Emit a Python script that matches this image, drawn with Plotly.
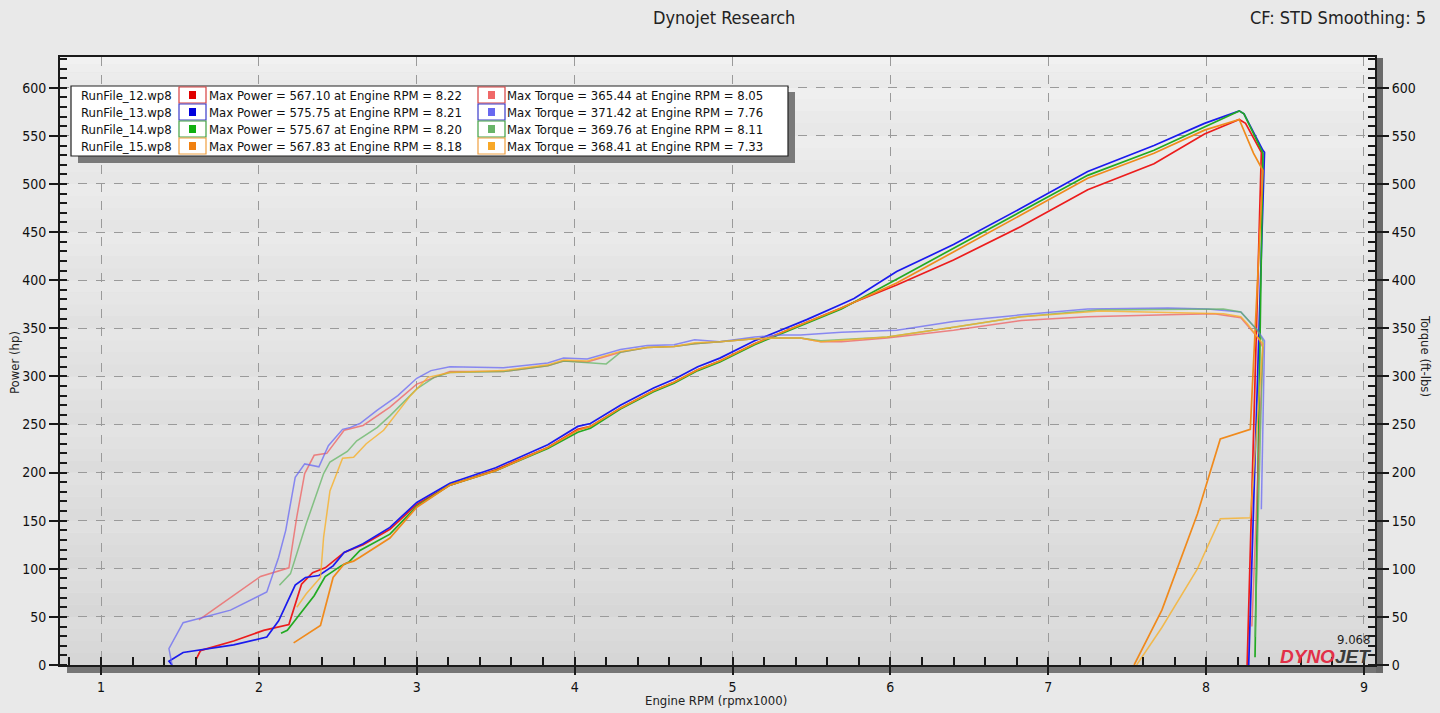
import plotly.graph_objects as go

# ---- legend / summary values ----
run_names = ["RunFile_12.wp8", "RunFile_13.wp8", "RunFile_14.wp8", "RunFile_15.wp8"]
max_power = [567.10, 575.75, 575.67, 567.83]
max_power_rpm = [8.22, 8.21, 8.20, 8.18]
max_torque = [365.44, 371.42, 369.76, 368.41]
max_torque_rpm = [8.05, 7.76, 8.11, 7.33]

# ---- run 12 (red) ----
rpm12_hp = [1.60, 1.63, 1.84, 2.03, 2.19, 2.27, 2.34, 2.42, 2.54, 2.66, 2.83, 3.00, 3.21, 3.50, 3.83,
            4.02, 4.10, 4.29, 4.50, 4.63, 4.78, 4.92, 5.14, 5.35, 5.47, 5.69, 5.77, 6.04, 6.40, 6.83,
            7.25, 7.67, 7.99, 8.21, 8.25, 8.35, 8.26]
hp12 = [5, 15, 25, 36, 42, 84, 96, 101, 117, 125, 141, 167, 187, 203, 226,
        245, 248, 267, 285, 294, 307, 316, 334, 348, 356, 371, 377, 395, 421, 456,
        494, 521, 552, 567, 563, 533, 0]
rpm12_tq = [1.62, 2.01, 2.19, 2.24, 2.29, 2.35, 2.43, 2.54, 2.66, 2.83, 3.00, 3.21, 3.55, 3.83, 3.93,
            4.08, 4.29, 4.46, 4.63, 4.76, 4.92, 5.14, 5.31, 5.43, 5.56, 5.69, 5.98, 6.40, 6.83, 7.25,
            7.76, 8.05, 8.22, 8.33, 8.36, 8.29]
tq12 = [47, 92, 101, 154, 199, 218, 220, 244, 249, 268, 292, 305, 305, 311, 316,
        315, 325, 330, 331, 334, 336, 339, 340, 340, 336, 336, 340, 348, 358, 362,
        364, 365, 361, 340, 330, 40]

# ---- run 13 (blue) ----
rpm13_hp = [1.45, 1.43, 1.52, 1.84, 2.05, 2.125, 2.23, 2.295, 2.38, 2.47, 2.54, 2.66, 2.83, 3.00, 3.21,
            3.50, 3.83, 4.02, 4.10, 4.29, 4.50, 4.63, 4.78, 4.92, 5.14, 5.35, 5.47, 5.69, 5.77, 6.04,
            6.40, 6.83, 7.25, 7.67, 7.99, 8.21, 8.24, 8.36, 8.37, 8.27]
hp13 = [0, 4, 13, 21, 29, 46, 83, 91, 93, 103, 117, 126, 143, 169, 189,
        205, 229, 248, 251, 270, 288, 297, 310, 319, 337, 351, 359, 375, 381, 409,
        437, 475, 513, 540, 563, 576, 573, 535, 533, 0]
rpm13_tq = [1.45, 1.43, 1.52, 1.82, 2.05, 2.125, 2.17, 2.23, 2.29, 2.38, 2.44, 2.53, 2.58, 2.64, 2.75,
            2.88, 3.00, 3.09, 3.21, 3.55, 3.83, 3.93, 4.08, 4.29, 4.46, 4.63, 4.76, 4.92, 5.14, 5.31,
            5.43, 5.69, 6.04, 6.40, 6.83, 7.25, 7.76, 8.01, 8.22, 8.325, 8.37, 8.35]
tq13 = [0, 17, 44, 57, 76, 112, 140, 195, 209, 206, 228, 245, 247, 251, 265,
        280, 298, 306, 310, 309, 314, 319, 318, 328, 332, 333, 338, 336, 341, 343,
        343, 346, 348, 357, 364, 370, 371, 370, 367, 348, 337, 162]

# ---- run 14 (green) ----
rpm14_hp = [2.14, 2.18, 2.27, 2.35, 2.42, 2.52, 2.57, 2.64, 2.83, 3.00, 3.21, 3.50, 3.83, 4.02, 4.10,
            4.29, 4.50, 4.63, 4.78, 4.92, 5.14, 5.35, 5.47, 5.69, 6.04, 6.40, 6.83, 7.25, 7.67, 7.99,
            8.21, 8.24, 8.36, 8.31]
hp14 = [33, 36, 55, 72, 92, 103, 107, 119, 136, 165, 187, 202, 225, 242, 246,
        266, 284, 293, 306, 315, 333, 347, 355, 370, 401, 433, 471, 509, 535, 559,
        576, 573, 532, 8]
rpm14_tq = [2.13, 2.20, 2.30, 2.41, 2.45, 2.56, 2.62, 2.75, 2.83, 3.00, 3.11, 3.21, 3.55, 3.83, 3.93,
            4.08, 4.20, 4.29, 4.46, 4.63, 4.76, 4.92, 5.14, 5.31, 5.43, 5.56, 5.98, 6.40, 6.83, 7.31,
            7.76, 8.11, 8.22, 8.325, 8.36, 8.31]
tq14 = [83, 95, 147, 199, 211, 222, 233, 247, 259, 287, 299, 304, 305, 311, 316,
        314, 313, 325, 330, 331, 334, 336, 339, 340, 340, 337, 341, 351, 362, 369,
        370, 370, 367, 348, 337, 29]

# ---- run 15 (orange) ----
rpm15_hp = [2.22, 2.39, 2.47, 2.54, 2.60, 2.64, 2.83, 3.00, 3.21, 3.50, 3.83, 4.02, 4.10, 4.29, 4.50,
            4.63, 4.78, 4.92, 5.14, 5.35, 5.47, 5.69, 6.04, 6.40, 6.83, 7.25, 7.67, 7.99, 8.21, 8.30,
            8.36, 8.28, 8.09, 8.01, 7.945, 7.72, 7.544]
hp15 = [23, 41, 91, 105, 108, 112, 132, 164, 187, 202, 226, 244, 248, 267, 285,
        294, 307, 316, 334, 348, 356, 371, 397, 429, 468, 506, 532, 556, 567, 532,
        514, 245, 235, 192, 157, 57, 0]
rpm15_tq = [2.24, 2.30, 2.39, 2.41, 2.45, 2.49, 2.53, 2.60, 2.68, 2.79, 2.96, 3.07, 3.21, 3.55, 3.83,
            3.93, 4.08, 4.29, 4.46, 4.63, 4.76, 4.92, 5.14, 5.31, 5.43, 5.56, 5.98, 6.40, 6.83, 7.33,
            7.76, 8.11, 8.22, 8.26, 8.325, 8.36, 8.28, 8.09, 7.945, 7.72, 7.56]
tq15 = [60, 74, 91, 133, 181, 199, 215, 216, 230, 244, 280, 299, 304, 306, 312,
        317, 316, 326, 330, 331, 335, 336, 339, 340, 340, 336, 341, 351, 362, 368,
        366, 365, 362, 355, 341, 334, 153, 152, 100, 39, 0]

power_colors = ["#ec1c1c", "#1a1aee", "#22aa22", "#f08a1c"]
torque_colors = ["rgba(240,90,90,0.72)", "rgba(100,100,245,0.72)", "rgba(95,180,95,0.72)", "rgba(248,176,40,0.8)"]
square_power = ["#e00000", "#0000dd", "#10b010", "#f08010"]
square_torque = ["#f06868", "#6868f0", "#68b468", "#f8a828"]
box_border = ["#d84040", "#3a3ac8", "#40a040", "#f0a040"]

FONT = "DejaVu Sans Condensed, DejaVu Sans, sans-serif"

# plot area in pixels
L, R, T, B = 60, 1375, 57, 665
W, H = R - L, B - T


def fx(p):
    return (p - L) / W


def fy(p):
    return (B - p) / H


fig = go.Figure()

hp_sets = [(rpm12_hp, hp12), (rpm13_hp, hp13), (rpm14_hp, hp14), (rpm15_hp, hp15)]
tq_sets = [(rpm12_tq, tq12), (rpm13_tq, tq13), (rpm14_tq, tq14), (rpm15_tq, tq15)]

for i, (x, y) in enumerate(tq_sets):
    fig.add_trace(go.Scatter(x=x, y=y, mode="lines", yaxis="y2", showlegend=False,
                             line=dict(color=torque_colors[i], width=1.5)))
for i, (x, y) in enumerate(hp_sets):
    fig.add_trace(go.Scatter(x=x, y=y, mode="lines", showlegend=False,
                             line=dict(color=power_colors[i], width=1.7)))

shapes = []
# banded plot background
for i in range(13):
    y0 = 50 * i
    y1 = min(50 * (i + 1), 632)
    base = 214 + i * 1.7
    n = 4
    for k in range(n):
        a = y0 + (y1 - y0) * k / n
        b = y0 + (y1 - y0) * (k + 1) / n
        c = int(base + k * 2.2)
        shapes.append(dict(type="rect", xref="paper", yref="y", x0=0, x1=1, y0=a, y1=b,
                           fillcolor="rgb(%d,%d,%d)" % (c, c, c), line=dict(width=0), layer="below"))

# axis shadows
shapes.append(dict(type="rect", xref="paper", yref="paper", x0=fx(67), x1=fx(1383), y0=fy(673), y1=fy(666),
                   fillcolor="#767676", line=dict(width=0), layer="below"))
shapes.append(dict(type="rect", xref="paper", yref="paper", x0=fx(1376), x1=fx(1383), y0=fy(673), y1=fy(58),
                   fillcolor="#6a6a6a", line=dict(width=0), layer="below"))

# legend box
shapes.append(dict(type="rect", xref="paper", yref="paper", x0=fx(78), x1=fx(795), y0=fy(163), y1=fy(92),
                   fillcolor="#7a7a7a", line=dict(width=0)))
shapes.append(dict(type="rect", xref="paper", yref="paper", x0=fx(71), x1=fx(788), y0=fy(156), y1=fy(86),
                   fillcolor="white", line=dict(color="#222222", width=1.2)))

annotations = []
row_y = [95, 112, 129, 146]
for i in range(4):
    yc = row_y[i]
    for bx, sq in [(179, square_power[i]), (478, square_torque[i])]:
        shapes.append(dict(type="rect", xref="paper", yref="paper", x0=fx(bx), x1=fx(bx + 27),
                           y0=fy(yc + 8), y1=fy(yc - 8), fillcolor="white",
                           line=dict(color=box_border[i], width=1.2)))
        shapes.append(dict(type="rect", xref="paper", yref="paper", x0=fx(bx + 10), x1=fx(bx + 17),
                           y0=fy(yc + 4), y1=fy(yc - 4), fillcolor=sq, line=dict(width=0)))
    annotations.append(dict(x=fx(79), y=fy(yc), xref="paper", yref="paper", xanchor="left", yanchor="middle",
                            text=run_names[i], showarrow=False, font=dict(size=13, color="#111111")))
    annotations.append(dict(x=fx(207), y=fy(yc), xref="paper", yref="paper", xanchor="left", yanchor="middle",
                            text="Max Power = %.2f at Engine RPM = %.2f" % (max_power[i], max_power_rpm[i]),
                            showarrow=False, font=dict(size=13, color="#111111")))
    annotations.append(dict(x=fx(505), y=fy(yc), xref="paper", yref="paper", xanchor="left", yanchor="middle",
                            text="Max Torque = %.2f at Engine RPM = %.2f" % (max_torque[i], max_torque_rpm[i]),
                            showarrow=False, font=dict(size=13, color="#111111")))

annotations += [
    dict(x=fx(724), y=fy(18), xref="paper", yref="paper", text="Dynojet Research", showarrow=False,
         xanchor="center", yanchor="middle", font=dict(size=18, color="#222222")),
    dict(x=fx(1428), y=fy(18), xref="paper", yref="paper", text="CF: STD Smoothing: 5", showarrow=False,
         xanchor="right", yanchor="middle", font=dict(size=18, color="#222222")),
    dict(x=fx(716), y=fy(700), xref="paper", yref="paper", text="Engine RPM (rpmx1000)", showarrow=False,
         xanchor="center", yanchor="middle", font=dict(size=13, color="#222222")),
    dict(x=fx(14), y=fy(362), xref="paper", yref="paper", text="Power (hp)", showarrow=False, textangle=-90,
         xanchor="center", yanchor="middle", font=dict(size=13, color="#222222")),
    dict(x=fx(1426), y=fy(356), xref="paper", yref="paper", text="Torque (ft-lbs)", showarrow=False, textangle=90,
         xanchor="center", yanchor="middle", font=dict(size=13, color="#222222")),
    dict(x=fx(1372), y=fy(639), xref="paper", yref="paper", text="9.068", showarrow=False,
         xanchor="right", yanchor="middle", font=dict(size=13, color="#222222")),
    dict(x=fx(1373), y=fy(656), xref="paper", yref="paper",
         text="<b><i><span style='color:#e23048'>DYNO</span><span style='color:#3a3a3a'>JET</span></i></b>",
         showarrow=False, xanchor="right", yanchor="middle", font=dict(size=19, family="Liberation Sans, Arial")),
]

fig.update_layout(
    width=1440, height=713,
    margin=dict(l=L, r=1440 - R, t=T, b=713 - B),
    paper_bgcolor="#e9e9e9",
    plot_bgcolor="#e2e2e2",
    font=dict(family=FONT, size=13, color="#111111"),
    shapes=shapes,
    annotations=annotations,
    xaxis=dict(range=[0.74, 9.07], tickvals=[1, 2, 3, 4, 5, 6, 7, 8, 9], showgrid=True, gridcolor="#9a9a9a",
               griddash="dash", gridwidth=1, zeroline=False, showline=True, linecolor="#1a1a1a", linewidth=2,
               mirror=True, ticks="outside", ticklen=8, tickwidth=2, tickcolor="#1a1a1a",
               minor=dict(dtick=0.2, tick0=0, ticks="inside", ticklen=8, tickwidth=1.5, tickcolor="#1a1a1a",
                          showgrid=False),
               tickfont=dict(size=14)),
    yaxis=dict(range=[0, 632], tickvals=list(range(0, 601, 50)), showgrid=True, gridcolor="#9a9a9a",
               griddash="dash", gridwidth=1, zeroline=False, showline=True, linecolor="#1a1a1a", linewidth=2,
               ticks="outside", ticklen=9, tickwidth=2, tickcolor="#1a1a1a",
               minor=dict(dtick=10, tick0=0, ticks="inside", ticklen=7, tickwidth=1.5, tickcolor="#1a1a1a",
                          showgrid=False),
               tickfont=dict(size=14)),
    yaxis2=dict(range=[0, 632], overlaying="y", side="right", tickvals=list(range(0, 601, 50)), showgrid=False,
                zeroline=False, showline=True, linecolor="#1a1a1a", linewidth=2,
                ticks="outside", ticklen=12, tickwidth=2, tickcolor="#1a1a1a",
                minor=dict(dtick=10, tick0=0, ticks="inside", ticklen=7, tickwidth=1.5, tickcolor="#1a1a1a"),
                tickfont=dict(size=14)),
)

fig.write_html("out.html", config={"displayModeBar": False},
               post_script="document.body.style.margin='0';document.body.style.overflow='hidden';")
